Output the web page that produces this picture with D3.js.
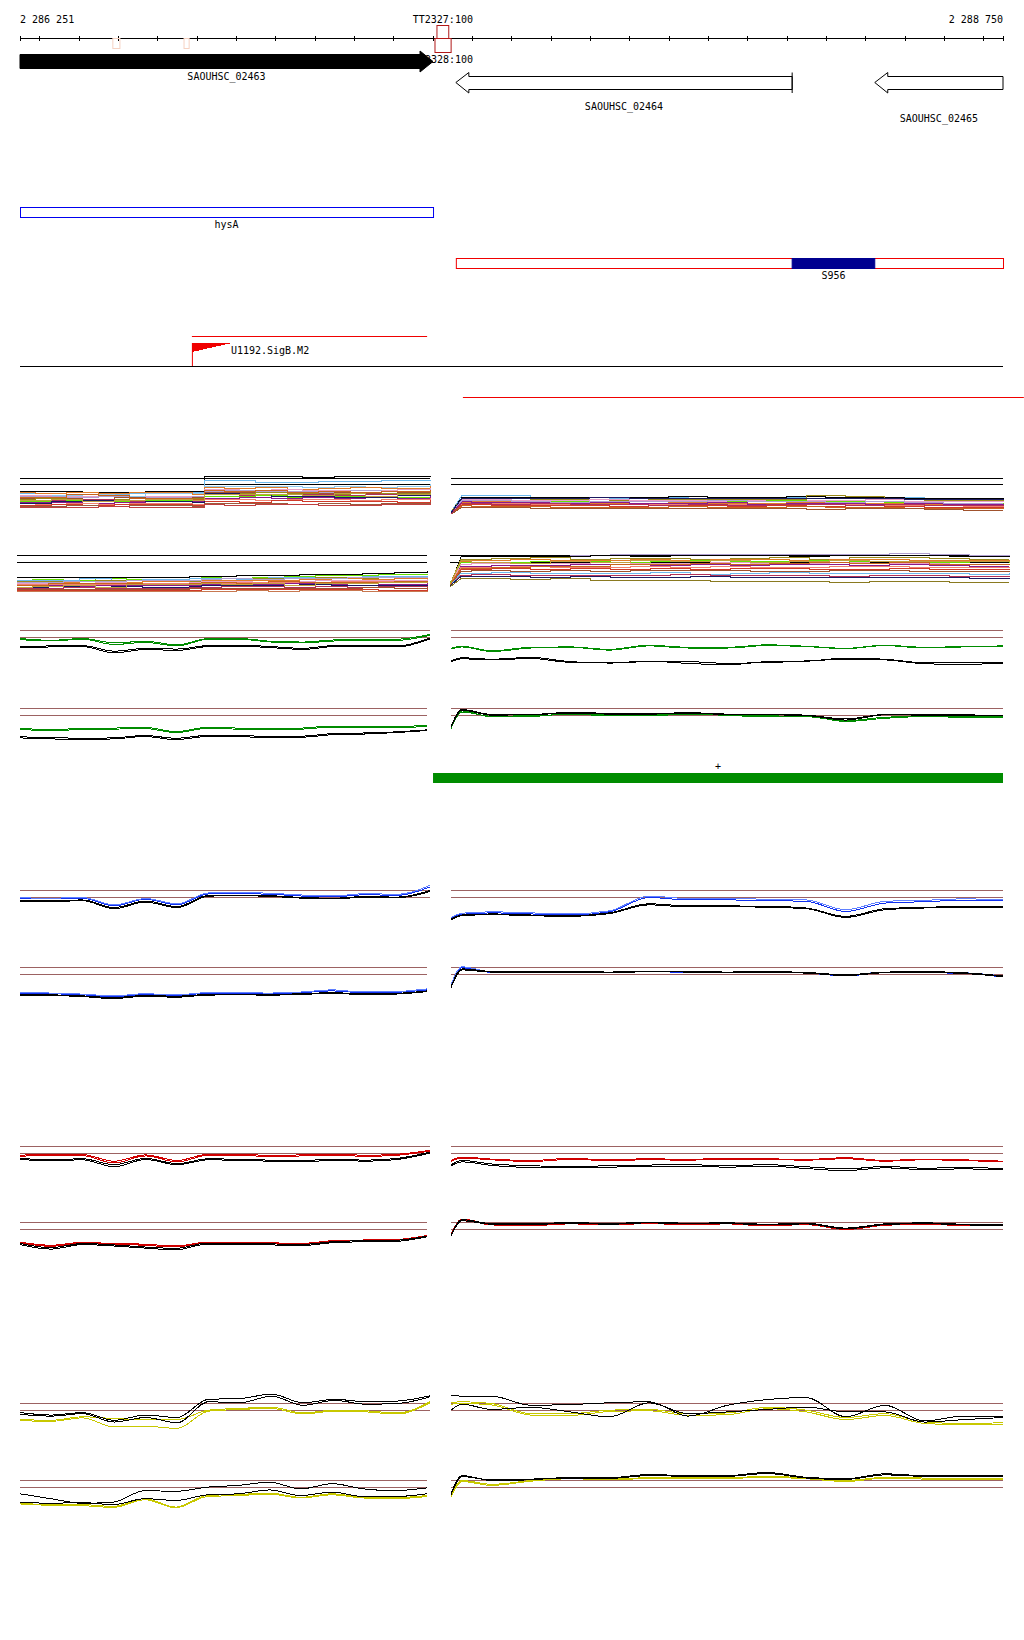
<!DOCTYPE html>
<html>
<head>
<meta charset="utf-8">
<script src="https://cdn.jsdelivr.net/npm/d3@7"></script>
<style>
body { margin: 0; background: #fff; }
svg text { font-family: 'DejaVu Sans Mono', monospace; font-size: 10px; fill: #000; }
</style>
</head>
<body>
<svg width="1024" height="1640"></svg>
<script>
// Genome window and features.

var viewStart = 2286251, viewEnd = 2288750;

var geneNames = ['SAOUHSC_02463', 'SAOUHSC_02464', 'SAOUHSC_02465'];
var geneStarts = [2286251, 2287359, 2288424];
var geneEnds = [2287301, 2288214, 2288750];
var geneStrands = ['+', '-', '-'];

var termNames = ['TT2327:100', 'TT2328:100'];
var termStarts = [2287311, 2287306];
var termEnds = [2287341, 2287347];
var faintStarts = [2286487, 2286668];
var faintEnds = [2286505, 2286681];

var hysA = [2286251, 2287301];
var s956Region = [2287359, 2288750];
var s956 = [2288214, 2288424];
var promName = 'U1192.SigB.M2';
var promRange = [2286688, 2287286];
var redSpan = [2287377, 2288803];
var plusBar = [2287301, 2288750];

// Probe positions of the expression tracks.

var leftPos = [2286251, 2286330, 2286410, 2286490, 2286570, 2286650, 2286730, 2286810, 2286890, 2286970, 2287050, 2287130, 2287210, 2287293];
var leftStepPos = [2286251, 2286330, 2286410, 2286490, 2286570, 2286690, 2286720, 2286810, 2286890, 2286970, 2287050, 2287130, 2287210, 2287293];
var leftStepPosAlt = [2286251, 2286290, 2286370, 2286450, 2286530, 2286690, 2286720, 2286770, 2286850, 2286930, 2287010, 2287090, 2287170, 2287293];
var rightPos = [2287347, 2287375, 2287450, 2287550, 2287650, 2287750, 2287850, 2287950, 2288050, 2288150, 2288250, 2288350, 2288450, 2288550, 2288650, 2288750];
var rightPosAlt = [2287347, 2287375, 2287400, 2287500, 2287600, 2287700, 2287800, 2287900, 2288000, 2288100, 2288200, 2288300, 2288400, 2288500, 2288600, 2288750];

// Multi-condition tracks (log2 signal).

var m1Left = [
 [8.2, 8.2, 8.0, 8.1, 8.2, 8.3, 12.6, 12.7, 12.6, 12.4, 12.7, 12.6, 12.5, 12.8],
 [7.6, 7.8, 7.5, 7.3, 7.7, 7.9, 11.3, 11.3, 11.0, 11.0, 11.2, 11.2, 11.3, 11.7],
 [7.0, 7.2, 7.3, 7.0, 7.6, 7.6, 9.8, 9.8, 9.6, 9.4, 9.6, 9.5, 9.7, 10.3],
 [7.9, 7.6, 7.9, 7.7, 8.0, 7.5, 9.3, 9.1, 9.3, 9.0, 9.2, 9.4, 9.1, 9.8],
 [7.1, 6.9, 7.0, 6.7, 6.9, 6.8, 8.9, 8.6, 8.8, 8.7, 8.5, 8.6, 8.8, 9.3],
 [6.8, 6.9, 6.6, 6.8, 6.5, 6.9, 8.4, 8.6, 8.2, 8.4, 8.1, 8.5, 8.3, 8.9],
 [6.4, 6.3, 6.1, 6.5, 6.4, 6.7, 8.1, 7.9, 8.0, 7.7, 8.0, 7.8, 8.0, 8.4],
 [6.1, 6.2, 6.0, 6.0, 6.2, 6.3, 7.7, 7.6, 7.9, 7.8, 7.5, 7.9, 7.6, 8.1],
 [5.8, 5.7, 5.9, 5.5, 5.6, 6.0, 7.4, 7.2, 7.0, 7.3, 7.1, 7.4, 7.2, 7.8],
 [5.4, 5.5, 5.6, 5.3, 5.6, 5.3, 6.9, 7.0, 7.1, 6.6, 6.8, 6.9, 6.7, 7.3],
 [5.1, 5.2, 5.0, 5.2, 5.0, 5.3, 6.4, 6.6, 6.3, 6.5, 6.3, 6.6, 6.4, 7.0],
 [4.8, 4.7, 4.9, 4.6, 4.8, 4.5, 5.9, 6.0, 5.8, 5.9, 6.1, 5.8, 6.0, 6.4],
 [4.4, 4.5, 4.3, 4.6, 4.5, 4.2, 5.4, 5.2, 5.6, 5.3, 5.4, 5.5, 5.2, 5.8],
 [4.1, 4.0, 4.2, 3.9, 4.3, 4.0, 4.9, 4.8, 5.0, 4.7, 4.9, 4.6, 4.8, 5.2],
 [5.0, 5.3, 5.6, 5.8, 5.3, 5.1, 7.6, 7.3, 6.8, 7.0, 6.6, 6.7, 7.1, 7.5],
 [6.6, 6.5, 7.4, 7.2, 6.3, 6.1, 8.6, 8.2, 8.5, 8.0, 8.3, 8.1, 8.4, 8.7],
 [5.6, 5.9, 5.4, 5.7, 6.0, 5.8, 7.3, 7.5, 7.4, 7.1, 7.6, 7.0, 7.5, 7.9],
 [3.7, 3.8, 3.6, 3.9, 3.7, 3.6, 4.5, 4.4, 4.6, 4.5, 4.3, 4.4, 4.6, 4.9]
];
var m1LeftColors = ['#000000', '#6cb8ec', '#8fc8ee', '#e07b28', '#e8a0c8', '#b0a0d0', '#a0522d', '#9a8a1a', '#b0305a', '#66e000', '#8b1a8b', '#f08070', '#d03a2a', '#9b5a3c', '#1a1a60', '#c8641e', '#c0a040', '#c04040'];

var m1Right = [
 [2.5, 7.2, 7.1, 6.5, 6.6, 6.4, 6.5, 6.3, 6.6, 6.5, 6.4, 6.5, 6.6, 6.3, 6.4, 6.4],
 [2.3, 6.6, 6.7, 6.6, 6.5, 6.6, 6.7, 6.8, 6.7, 6.6, 6.8, 6.5, 6.6, 6.4, 6.2, 6.0],
 [2.4, 6.3, 6.2, 6.1, 6.0, 5.8, 5.9, 6.0, 6.1, 5.9, 7.2, 6.8, 6.0, 5.7, 5.6, 5.5],
 [2.2, 6.0, 5.9, 5.7, 5.8, 5.9, 5.6, 5.7, 5.5, 5.8, 5.6, 5.7, 5.9, 5.4, 5.3, 5.2],
 [2.1, 5.6, 5.5, 5.4, 5.5, 5.3, 5.5, 5.2, 5.4, 5.6, 5.3, 5.5, 5.2, 5.0, 4.8, 4.7],
 [2.0, 5.2, 5.3, 5.0, 5.1, 4.9, 5.0, 5.1, 4.8, 5.0, 5.1, 4.9, 5.0, 4.7, 4.5, 4.4],
 [1.9, 4.9, 4.8, 4.6, 4.7, 4.5, 4.6, 4.7, 4.5, 4.4, 4.6, 4.5, 4.4, 4.2, 4.1, 4.0],
 [2.0, 5.4, 5.1, 5.2, 4.9, 5.1, 4.8, 4.9, 5.2, 4.7, 4.8, 5.0, 4.7, 4.9, 4.6, 4.5],
 [1.8, 4.5, 4.4, 4.2, 4.3, 4.1, 4.3, 4.2, 4.0, 4.2, 4.1, 4.3, 4.0, 3.8, 3.7, 3.6],
 [1.9, 4.2, 4.0, 3.9, 3.7, 3.8, 3.6, 3.9, 3.8, 3.7, 3.9, 3.8, 3.6, 3.5, 3.4, 3.3],
 [1.8, 3.8, 3.7, 3.4, 3.5, 3.3, 3.4, 3.3, 3.5, 3.4, 3.2, 3.4, 3.3, 3.1, 3.0, 2.9],
 [2.1, 5.8, 5.7, 5.5, 5.2, 5.4, 5.3, 5.5, 5.7, 5.3, 5.5, 5.2, 5.4, 5.1, 5.0, 4.9],
 [2.0, 5.0, 4.6, 4.8, 4.5, 4.7, 4.4, 4.6, 4.3, 4.5, 4.7, 4.2, 4.6, 4.4, 4.2, 4.1],
 [2.2, 6.4, 6.4, 6.2, 6.3, 6.5, 6.2, 6.4, 6.3, 6.2, 6.3, 6.2, 6.3, 6.1, 6.0, 5.9]
];
var m1RightColors = ['#6cb8ec', '#000000', '#9a8a1a', '#e8a0c8', '#66e000', '#e07b28', '#f08070', '#8b1a8b', '#d03a2a', '#c8641e', '#a0522d', '#b0a0d0', '#b0305a', '#1a1a60'];

var m2Left = [
 [5.7, 5.7, 5.6, 5.8, 5.7, 5.9, 6.1, 6.2, 6.4, 6.5, 6.6, 6.9, 7.1, 7.5],
 [4.8, 5.2, 5.0, 5.4, 5.1, 5.3, 5.6, 5.5, 5.8, 5.9, 6.2, 6.4, 6.5, 6.8],
 [5.0, 4.8, 5.3, 4.9, 5.2, 5.4, 5.5, 5.2, 5.6, 5.6, 5.7, 5.9, 6.0, 6.2],
 [4.6, 4.7, 4.5, 4.8, 4.9, 4.7, 5.2, 5.0, 5.3, 5.4, 5.6, 5.5, 5.8, 6.0],
 [4.3, 4.4, 4.6, 4.2, 4.5, 4.4, 4.8, 4.9, 5.0, 5.1, 5.3, 5.2, 5.4, 5.6],
 [4.0, 4.1, 3.9, 4.3, 4.0, 4.2, 4.5, 4.6, 4.4, 4.7, 4.9, 5.0, 4.8, 5.2],
 [3.7, 3.6, 3.8, 3.7, 3.9, 3.8, 4.1, 4.2, 4.3, 4.1, 4.5, 4.6, 4.4, 4.8],
 [3.3, 3.4, 3.2, 3.5, 3.3, 3.4, 3.7, 3.6, 3.8, 3.9, 3.7, 3.9, 3.8, 4.1],
 [3.0, 3.1, 3.0, 3.2, 2.9, 3.1, 3.4, 3.5, 3.3, 3.6, 3.4, 3.5, 3.3, 3.6],
 [2.7, 2.6, 2.8, 2.7, 2.6, 2.8, 3.0, 3.1, 3.2, 2.9, 3.1, 3.0, 3.2, 3.4],
 [2.3, 2.4, 2.2, 2.4, 2.3, 2.5, 2.6, 2.7, 2.5, 2.7, 2.6, 2.8, 2.5, 2.9],
 [1.9, 2.0, 2.1, 1.9, 2.0, 2.1, 2.2, 2.2, 2.4, 2.2, 2.3, 2.2, 2.1, 2.4],
 [1.6, 1.7, 1.6, 1.8, 1.7, 1.6, 1.8, 1.9, 1.8, 2.0, 1.9, 1.8, 1.7, 2.0],
 [4.4, 4.2, 4.7, 4.6, 4.8, 5.0, 5.1, 5.3, 5.2, 5.3, 5.4, 5.7, 5.6, 5.9],
 [3.5, 3.9, 4.1, 4.0, 3.6, 3.9, 4.3, 4.0, 4.6, 4.4, 4.2, 4.3, 4.6, 4.5],
 [2.9, 3.2, 3.5, 3.0, 3.7, 3.6, 3.9, 3.8, 4.0, 3.4, 4.0, 4.1, 4.2, 4.4]
];
var m2LeftColors = ['#000000', '#66e000', '#6cb8ec', '#9a8a1a', '#e07b28', '#e8a0c8', '#f08070', '#8b1a8b', '#1a1a60', '#b0305a', '#a0522d', '#d03a2a', '#c87850', '#b0a0d0', '#c8641e', '#c0a040'];

var m2Right = [
 [3.2, 10.8, 11.2, 11.5, 12.1, 12.2, 12.3, 12.2, 12.3, 12.4, 12.2, 12.3, 12.5, 12.2, 12.0, 11.8],
 [3.4, 11.6, 11.8, 11.7, 11.8, 11.9, 11.8, 12.0, 12.1, 11.9, 11.8, 11.9, 12.0, 11.9, 11.8, 11.9],
 [3.8, 11.0, 11.1, 11.3, 11.0, 11.2, 11.1, 10.9, 11.2, 11.4, 11.0, 11.3, 11.5, 11.2, 11.0, 10.9],
 [3.6, 10.3, 10.6, 10.8, 10.5, 10.7, 10.9, 10.6, 10.8, 10.9, 10.7, 10.8, 10.9, 10.6, 10.7, 10.5],
 [4.0, 10.0, 10.1, 10.2, 10.4, 10.1, 10.3, 10.5, 10.2, 10.4, 10.6, 10.3, 10.2, 10.1, 10.3, 10.0],
 [3.5, 9.5, 9.6, 9.8, 9.7, 9.9, 9.6, 9.8, 10.0, 9.7, 9.8, 9.9, 9.7, 9.6, 9.5, 9.4],
 [3.3, 9.0, 9.2, 9.1, 9.3, 9.4, 9.1, 9.3, 9.2, 9.4, 9.3, 9.2, 9.4, 9.1, 9.0, 8.9],
 [3.9, 8.6, 8.5, 8.8, 8.7, 8.6, 8.9, 8.7, 8.8, 8.6, 8.7, 8.9, 8.8, 8.5, 8.6, 8.4],
 [3.1, 8.0, 8.2, 8.1, 8.3, 8.0, 8.2, 8.1, 8.3, 8.2, 8.0, 8.1, 8.2, 8.0, 7.9, 7.8],
 [3.7, 7.5, 7.6, 7.4, 7.7, 7.5, 7.6, 7.8, 7.6, 7.4, 7.5, 7.7, 7.6, 7.4, 7.3, 7.2],
 [3.3, 7.0, 7.1, 6.8, 7.0, 6.9, 7.2, 6.7, 7.0, 7.1, 6.8, 6.9, 7.0, 6.8, 6.7, 6.9],
 [3.2, 6.4, 6.5, 6.3, 6.2, 6.4, 6.3, 6.5, 6.2, 6.4, 6.3, 6.1, 6.3, 6.2, 6.0, 6.1],
 [3.4, 6.0, 5.9, 5.8, 5.9, 5.7, 5.8, 5.9, 5.7, 5.8, 5.6, 5.7, 5.8, 5.6, 5.5, 5.6],
 [3.0, 5.4, 5.3, 5.2, 5.4, 5.0, 4.9, 4.8, 4.6, 4.5, 4.5, 4.4, 4.6, 4.5, 4.4, 4.3],
 [3.6, 8.3, 8.6, 9.0, 8.9, 9.5, 9.3, 9.7, 9.4, 9.8, 9.9, 9.6, 10.0, 9.5, 9.3, 9.6],
 [3.8, 10.5, 10.0, 9.7, 10.2, 10.0, 10.6, 10.3, 10.5, 10.1, 10.4, 10.6, 10.3, 10.4, 10.2, 10.1]
];
var m2RightColors = ['#b0a0d0', '#000000', '#9a8a1a', '#e07b28', '#66e000', '#e8a0c8', '#8b1a8b', '#f08070', '#d03a2a', '#a0522d', '#6cb8ec', '#b0305a', '#1a1a60', '#8a7a20', '#c8641e', '#c0a040'];

// Paired condition tracks: two colored replicates, two black references.

var g1Left = [
 [9.7, 9.2, 9.7, 8.5, 8.9, 7.9, 9.7, 9.7, 8.9, 8.7, 9.3, 9.4, 9.5, 10.9],
 [9.4, 9.0, 9.5, 8.0, 8.6, 7.6, 9.5, 9.5, 8.7, 8.5, 9.0, 9.2, 9.2, 10.6],
 [7.4, 7.6, 7.7, 6.1, 6.9, 6.7, 7.7, 7.8, 7.4, 6.9, 7.7, 7.6, 7.6, 9.8],
 [7.1, 7.3, 7.4, 5.6, 6.6, 6.3, 7.4, 7.5, 7.1, 6.6, 7.4, 7.3, 7.3, 9.6]
];
var g1Right = [
 [6.9, 7.5, 6.2, 7.2, 7.3, 6.6, 7.8, 7.2, 7.2, 7.9, 7.5, 6.9, 7.8, 7.2, 7.4, 7.6],
 [6.7, 7.3, 6.0, 7.0, 7.2, 6.4, 7.6, 7.0, 7.0, 7.7, 7.4, 6.8, 7.7, 7.0, 7.3, 7.5],
 [3.3, 4.2, 3.8, 4.3, 3.1, 2.7, 3.1, 3.1, 2.6, 2.9, 3.2, 4.1, 3.8, 2.8, 3.0, 2.8],
 [3.1, 3.9, 3.6, 4.0, 2.9, 2.8, 3.2, 2.6, 2.2, 3.1, 3.3, 3.8, 3.6, 2.5, 2.3, 2.7]
];
var g2Left = [
 [6.3, 6.0, 6.3, 6.4, 6.6, 5.4, 6.6, 6.4, 6.3, 6.4, 7.0, 6.9, 6.9, 7.1],
 [6.0, 5.7, 6.0, 6.1, 6.3, 5.1, 6.3, 6.1, 6.0, 6.1, 6.7, 6.6, 6.6, 6.8],
 [3.9, 3.7, 3.5, 3.6, 4.3, 3.5, 4.3, 4.2, 4.1, 4.1, 4.8, 5.0, 5.3, 5.9],
 [3.6, 3.3, 3.2, 3.3, 4.0, 3.1, 4.0, 3.9, 3.8, 3.8, 4.5, 4.7, 5.1, 5.7]
];
var g2Right = [
 [6.5, 11.3, 9.6, 9.7, 10.5, 10.2, 10.2, 10.5, 10.0, 9.7, 9.8, 8.3, 9.2, 9.7, 9.5, 9.5],
 [6.3, 11.0, 9.8, 9.9, 10.3, 10.0, 10.0, 10.3, 10.1, 9.9, 9.7, 8.5, 9.5, 9.8, 9.6, 9.6],
 [6.9, 11.7, 10.3, 10.3, 10.9, 10.6, 10.5, 10.8, 10.4, 10.3, 10.1, 9.0, 10.3, 10.3, 10.2, 10.0],
 [6.7, 11.5, 10.1, 10.2, 10.7, 10.4, 10.4, 10.6, 10.3, 10.2, 10.0, 8.7, 10.2, 10.1, 10.0, 9.9]
];

var b1Left = [
 [9.7, 9.6, 9.8, 7.6, 9.5, 7.9, 11.0, 11.1, 10.9, 10.4, 10.2, 10.8, 10.6, 13.0],
 [9.9, 9.8, 10.0, 7.9, 9.7, 8.2, 11.3, 11.4, 11.2, 10.7, 10.5, 11.1, 10.9, 13.5],
 [9.2, 9.0, 9.3, 7.1, 9.0, 7.4, 10.6, 10.7, 10.5, 10.0, 9.8, 10.3, 10.1, 12.0],
 [9.0, 8.8, 9.1, 6.8, 8.7, 7.1, 10.4, 10.5, 10.3, 9.8, 9.6, 10.1, 9.9, 11.7]
];
var b1Right = [
 [4.0, 5.2, 5.6, 5.3, 5.0, 5.9, 10.0, 9.3, 9.3, 9.1, 8.9, 6.0, 8.4, 8.8, 9.2, 9.1],
 [4.3, 5.5, 5.9, 5.6, 5.3, 6.2, 10.4, 9.7, 9.7, 9.5, 9.3, 6.5, 8.9, 9.2, 9.6, 9.5],
 [3.8, 5.0, 5.3, 5.0, 4.8, 5.6, 8.2, 7.6, 7.6, 7.5, 7.0, 4.6, 6.8, 7.2, 7.4, 7.4],
 [3.6, 4.8, 5.1, 4.8, 4.6, 5.4, 7.9, 7.3, 7.4, 7.2, 6.8, 4.3, 6.5, 7.0, 7.2, 7.1]
];
var b2Left = [
 [4.6, 4.5, 4.2, 3.6, 4.3, 4.0, 4.6, 4.6, 4.5, 4.8, 5.3, 4.8, 4.9, 5.6],
 [4.8, 4.7, 4.4, 3.9, 4.5, 4.2, 4.8, 4.8, 4.7, 5.0, 5.6, 5.0, 5.1, 5.9],
 [4.3, 4.2, 3.9, 3.4, 4.0, 3.8, 4.3, 4.4, 4.3, 4.5, 4.8, 4.5, 4.6, 5.3],
 [4.1, 4.0, 3.7, 3.1, 3.8, 3.5, 4.1, 4.2, 4.1, 4.3, 4.6, 4.3, 4.4, 5.1]
];
var b2Right = [
 [6.8, 11.9, 10.6, 10.7, 10.6, 10.5, 10.8, 10.6, 10.5, 10.6, 10.4, 9.6, 10.5, 10.5, 10.3, 9.3],
 [7.1, 12.2, 10.8, 10.9, 10.8, 10.7, 11.0, 10.8, 10.7, 10.8, 10.6, 9.9, 10.7, 10.7, 10.5, 9.6],
 [6.5, 11.6, 10.9, 10.9, 10.8, 10.7, 11.0, 10.9, 10.7, 10.8, 10.6, 9.9, 10.7, 10.8, 10.5, 9.6],
 [6.3, 11.3, 10.7, 10.7, 10.6, 10.5, 10.8, 10.7, 10.5, 10.6, 10.4, 9.7, 10.5, 10.6, 10.3, 9.4]
];

var r1Left = [
 [9.5, 9.8, 9.7, 7.8, 9.6, 8.0, 9.8, 9.7, 9.5, 9.6, 9.8, 9.5, 9.8, 10.9],
 [9.2, 9.5, 9.4, 7.3, 9.3, 7.6, 9.5, 9.4, 9.2, 9.3, 9.5, 9.2, 9.5, 10.7],
 [8.6, 8.2, 8.5, 6.8, 8.6, 7.1, 8.5, 8.3, 8.1, 8.0, 8.4, 8.1, 8.6, 10.4],
 [8.3, 7.9, 8.2, 6.2, 8.3, 6.8, 8.2, 8.0, 7.8, 7.6, 8.1, 7.8, 8.3, 10.1]
];
var r1Right = [
 [8.0, 9.0, 8.4, 8.0, 8.6, 8.2, 8.5, 8.3, 8.7, 8.5, 8.3, 8.8, 8.0, 8.4, 8.2, 7.8],
 [7.8, 8.7, 8.2, 7.7, 8.3, 8.0, 8.2, 8.1, 8.4, 8.3, 8.1, 8.5, 7.8, 8.2, 8.0, 7.6],
 [6.8, 8.0, 7.0, 6.5, 6.3, 6.5, 6.7, 6.8, 6.5, 6.8, 6.2, 5.6, 6.3, 5.8, 6.0, 5.7],
 [6.5, 7.6, 6.6, 6.0, 5.9, 6.1, 6.3, 6.4, 6.1, 6.4, 5.7, 5.1, 5.9, 5.4, 5.6, 5.3]
];
var r2Left = [
 [6.4, 5.5, 6.3, 6.0, 5.8, 5.3, 6.4, 6.3, 6.2, 6.0, 6.8, 7.0, 7.1, 8.3],
 [6.2, 5.2, 6.1, 5.8, 5.5, 5.0, 6.2, 6.1, 6.0, 5.8, 6.6, 6.8, 6.9, 8.1],
 [6.0, 4.8, 6.0, 5.6, 5.0, 4.6, 6.1, 6.0, 5.9, 5.7, 6.5, 6.8, 6.9, 8.1],
 [5.7, 4.4, 5.7, 5.3, 4.7, 4.2, 5.8, 5.7, 5.6, 5.4, 6.2, 6.5, 6.6, 7.9]
];
var r2Right = [
 [8.5, 13.0, 11.5, 11.3, 11.8, 11.5, 11.9, 11.5, 11.8, 11.2, 11.6, 10.2, 11.4, 11.7, 11.3, 11.2],
 [8.3, 12.7, 11.3, 11.1, 11.6, 11.3, 11.7, 11.3, 11.6, 11.0, 11.4, 10.0, 11.2, 11.5, 11.1, 11.0],
 [8.3, 12.8, 11.7, 11.6, 12.0, 11.7, 12.1, 11.8, 11.9, 11.5, 11.8, 10.4, 11.6, 11.9, 11.5, 11.4],
 [8.1, 12.5, 11.5, 11.4, 11.8, 11.5, 11.9, 11.6, 11.7, 11.3, 11.6, 10.2, 11.4, 11.7, 11.3, 11.2]
];

var y1Left = [
 [7.4, 7.2, 8.2, 7.7, 7.4, 7.4, 10.1, 10.6, 10.9, 9.3, 10.1, 9.9, 9.3, 12.5],
 [7.1, 6.9, 7.9, 5.3, 5.5, 4.9, 9.8, 10.3, 10.6, 9.0, 9.8, 9.6, 9.0, 12.2],
 [9.4, 8.7, 9.4, 7.2, 8.7, 8.0, 13.2, 13.4, 14.7, 12.2, 13.2, 12.5, 12.7, 14.2],
 [8.9, 8.4, 9.1, 6.7, 8.0, 6.5, 12.5, 12.2, 14.1, 11.5, 12.9, 11.8, 12.0, 13.9]
];
var y1Right = [
 [12.2, 12.5, 12.0, 9.1, 9.1, 10.1, 10.3, 9.1, 9.3, 10.9, 10.1, 8.0, 9.1, 6.7, 6.3, 6.5],
 [11.8, 12.0, 11.6, 8.7, 8.6, 9.7, 9.9, 8.6, 8.8, 10.5, 9.6, 7.4, 8.6, 6.3, 5.9, 6.0],
 [14.4, 14.1, 14.1, 11.5, 11.7, 12.2, 12.5, 8.4, 11.5, 13.1, 13.7, 8.2, 11.5, 7.0, 8.4, 8.4],
 [10.1, 11.8, 10.3, 10.9, 9.6, 8.2, 12.2, 9.1, 9.6, 10.3, 11.0, 9.6, 9.6, 6.7, 7.4, 8.0]
];
var y2Left = [
 [5.5, 5.1, 5.1, 4.6, 6.8, 4.4, 7.7, 8.0, 8.4, 7.2, 8.2, 7.2, 7.1, 7.7],
 [5.3, 4.9, 4.8, 4.3, 6.5, 4.2, 7.4, 7.7, 8.1, 7.0, 7.9, 7.0, 6.8, 7.4],
 [5.8, 5.5, 5.7, 5.1, 6.8, 6.3, 7.9, 8.2, 9.3, 7.7, 8.7, 7.4, 7.4, 8.2],
 [8.2, 6.8, 5.5, 5.8, 9.1, 8.9, 10.1, 10.6, 11.5, 9.6, 11.1, 9.6, 9.1, 9.9]
];
var y2Right = [
 [7.7, 12.0, 10.9, 12.0, 12.8, 12.5, 12.8, 12.9, 12.9, 13.1, 12.8, 12.0, 12.9, 12.7, 12.5, 12.5],
 [7.4, 11.7, 10.6, 11.8, 12.5, 12.2, 12.6, 12.7, 12.6, 12.9, 12.5, 11.7, 12.7, 12.4, 12.2, 12.3],
 [8.2, 13.4, 12.0, 12.2, 12.9, 12.8, 13.7, 13.4, 13.4, 14.3, 12.9, 12.5, 13.9, 13.4, 13.4, 13.4],
 [8.0, 13.1, 12.2, 12.4, 12.7, 12.6, 13.4, 13.2, 13.2, 14.0, 12.7, 12.3, 13.6, 13.2, 13.2, 13.2]
];

var refLevels = [12, 10];
var refLevelsTop = [12, 10.3];

var greenColors = ['#008c00', '#008c00', '#000000', '#000000'];
var blueColors = ['#1030f0', '#6080ff', '#000000', '#000000'];
var redColors = ['#d00000', '#d00000', '#000000', '#000000'];
var yellowColors = ['#c8c800', '#c8c800', '#000000', '#000000'];

// Select the SVG and build the main scale.

var svg = d3.select('svg');
var x = d3.scaleLinear().domain([viewStart, viewEnd]).range([20, 1003]);
var spaced = function(v) { return d3.format(',')(v).replace(/,/g, ' '); };

// Draw the ruler.

var ticks = [viewStart].concat(d3.range(2286300, viewEnd, 100), [viewEnd]);
var ruler = svg.append('g')
 .attr('transform', 'translate(0,36)')
 .call(d3.axisBottom(x).tickValues(ticks).tickSize(5).tickFormat(''));
ruler.select('.domain').remove();
ruler.selectAll('line').attr('stroke', '#000').attr('shape-rendering', 'crispEdges');

svg.append('line')
 .attr('x1', x(viewStart)).attr('x2', x(viewEnd))
 .attr('y1', 38.5).attr('y2', 38.5)
 .attr('stroke', '#000');

svg.append('text').attr('x', x(viewStart)).attr('y', 23).text(spaced(viewStart));
svg.append('text').attr('x', x(viewEnd)).attr('y', 23).attr('text-anchor', 'end').text(spaced(viewEnd));

// Terminator labels sit under the gene arrow.

svg.selectAll(null).data(termNames).enter().append('text')
 .attr('x', function(d, i) { return (x(termStarts[i]) + x(termEnds[i])) / 2; })
 .attr('y', function(d, i) { return i === 0 ? 23 : 63; })
 .attr('text-anchor', 'middle')
 .text(function(d) { return d; });

svg.selectAll(null).data(faintStarts).enter().append('rect')
 .attr('x', function(d) { return x(d); })
 .attr('y', 38.5)
 .attr('width', function(d, i) { return x(faintEnds[i]) - x(d); })
 .attr('height', 10)
 .attr('fill', 'none')
 .attr('stroke', '#f6d2c2');

// Draw the genes.

var geneLabelY = [80, 110, 122];

svg.selectAll(null).data(geneNames).enter().append('path')
 .attr('d', function(d, i) {
  var a = x(geneStarts[i]), b = x(geneEnds[i]);
  if (geneStrands[i] === '+') {
   return 'M' + a + ',54.5H' + (b - 13) + 'V51L' + b + ',61.5L' + (b - 13) + ',72V68.5H' + a + 'Z';
  }
  var p = 'M' + a + ',82.5L' + (a + 13) + ',72.5V76.5H' + b + 'V89.5H' + (a + 13) + 'V93Z';
  if (geneEnds[i] < viewEnd) p += 'M' + b + ',72.5V93';
  return p;
 })
 .attr('fill', function(d, i) { return geneStrands[i] === '+' ? '#000' : '#fff'; })
 .attr('stroke', '#000')
 .attr('stroke-width', 1);

svg.selectAll(null).data(geneNames).enter().append('text')
 .attr('x', function(d, i) { return (x(geneStarts[i]) + x(geneEnds[i])) / 2; })
 .attr('y', function(d, i) { return geneLabelY[i]; })
 .attr('text-anchor', 'middle')
 .text(function(d) { return d; });

svg.selectAll(null).data(termStarts).enter().append('rect')
 .attr('x', function(d) { return x(d); })
 .attr('y', function(d, i) { return i === 0 ? 25.5 : 38.5; })
 .attr('width', function(d, i) { return x(termEnds[i]) - x(d); })
 .attr('height', function(d, i) { return i === 0 ? 13 : 14; })
 .attr('fill', 'none')
 .attr('stroke', '#b01818');

// Draw hysA, S956 and the promoter.

svg.append('rect')
 .attr('x', x(hysA[0]) + 0.5).attr('y', 207.5)
 .attr('width', x(hysA[1]) - x(hysA[0])).attr('height', 10)
 .attr('fill', 'none').attr('stroke', '#0000f0');
svg.append('text').attr('x', (x(hysA[0]) + x(hysA[1])) / 2).attr('y', 228).attr('text-anchor', 'middle').text('hysA');

svg.append('rect')
 .attr('x', x(s956Region[0]) + 0.5).attr('y', 258.5)
 .attr('width', x(s956Region[1]) - x(s956Region[0])).attr('height', 10)
 .attr('fill', 'none').attr('stroke', '#f00000');
svg.append('rect')
 .attr('x', x(s956[0])).attr('y', 258.5)
 .attr('width', x(s956[1]) - x(s956[0])).attr('height', 10)
 .attr('fill', '#000090').attr('stroke', '#000090');
svg.append('text').attr('x', (x(s956[0]) + x(s956[1])) / 2).attr('y', 279).attr('text-anchor', 'middle').text('S956');

svg.append('line')
 .attr('x1', x(promRange[0])).attr('x2', x(promRange[1]))
 .attr('y1', 336.5).attr('y2', 336.5).attr('stroke', '#f00000');
svg.append('line')
 .attr('x1', x(promRange[0]) + 0.5).attr('x2', x(promRange[0]) + 0.5)
 .attr('y1', 343).attr('y2', 366).attr('stroke', '#f00000');
svg.append('path')
 .attr('d', 'M' + x(promRange[0]) + ',343H' + (x(promRange[0]) + 40) + 'L' + x(promRange[0]) + ',352Z')
 .attr('fill', '#f00000').attr('shape-rendering', 'crispEdges');
svg.append('text').attr('x', x(promRange[0]) + 39).attr('y', 354).text(promName);

svg.append('line')
 .attr('x1', x(viewStart)).attr('x2', x(viewEnd))
 .attr('y1', 366.5).attr('y2', 366.5).attr('stroke', '#000');
svg.append('line')
 .attr('x1', x(redSpan[0])).attr('x2', x(redSpan[1]))
 .attr('y1', 397.5).attr('y2', 397.5).attr('stroke', '#f00000');

// Draw the expression tracks.

function track(top, range, domain, pos, series, colors, refs, refColor, stepped, altPos) {
 var g = svg.append('g');
 var xs = d3.scaleLinear().domain(domain).range(range);
 var y = d3.scaleLinear().domain([12, 0]).range([top, top + 42]);

 g.selectAll(null).data(refs).enter().append('line')
  .attr('x1', range[0]).attr('x2', range[1])
  .attr('y1', function(d) { return y(d); })
  .attr('y2', function(d) { return y(d); })
  .attr('stroke', refColor)
  .attr('shape-rendering', 'crispEdges');

 var line = d3.line()
  .x(function(d) { return xs(d[0]); })
  .y(function(d) { return y(d[1]); })
  .curve(stepped ? d3.curveStepAfter : d3.curveMonotoneX);

 g.selectAll(null).data(series).enter().append('path')
  .attr('d', function(d, k) {
   // odd series of the multi tracks sit on the staggered probe set
   var p = (altPos && k % 2 === 1) ? altPos : pos;
   var pts = d.map(function(v, i) { return [p[i], v]; });
   // right-hand tracks ramp in from the first probe
   if (stepped && p[0] > viewStart) {
    return 'M' + xs(pts[0][0]) + ',' + y(pts[0][1]) + 'L' + line(pts.slice(1)).slice(1);
   }
   return line(pts);
  })
  .attr('fill', 'none')
  .attr('stroke', function(d, i) { return colors[i]; })
  .attr('stroke-width', 1)
  .attr('shape-rendering', 'crispEdges');
}

var leftDom = [viewStart, leftPos[leftPos.length - 1]];
var rightDom = [rightPos[0], viewEnd];
var brown = '#9c6262';

track(478.5, [20, 430], leftDom, leftStepPos, m1Left, m1LeftColors, refLevelsTop, '#000', true, leftStepPosAlt);
track(478.5, [451, 1003], rightDom, rightPos, m1Right, m1RightColors, refLevelsTop, '#000', true, rightPosAlt);
track(555.5, [17, 427], leftDom, leftStepPos, m2Left, m2LeftColors, refLevels, '#000', true, leftStepPosAlt);
track(555.5, [450, 1009], rightDom, rightPos, m2Right, m2RightColors, refLevels, '#000', true, rightPosAlt);

track(630.5, [20, 430], leftDom, leftPos, g1Left, greenColors, refLevels, brown, false);
track(630.5, [451, 1003], rightDom, rightPos, g1Right, greenColors, refLevels, brown, false);
track(708.5, [20, 427], leftDom, leftPos, g2Left, greenColors, refLevels, brown, false);
track(708.5, [451, 1003], rightDom, rightPos, g2Right, greenColors, refLevels, brown, false);

track(890.5, [20, 430], leftDom, leftPos, b1Left, blueColors, refLevels, brown, false);
track(890.5, [451, 1003], rightDom, rightPos, b1Right, blueColors, refLevels, brown, false);
track(967.5, [20, 427], leftDom, leftPos, b2Left, blueColors, refLevels, brown, false);
track(967.5, [451, 1003], rightDom, rightPos, b2Right, blueColors, refLevels, brown, false);

track(1146.5, [20, 430], leftDom, leftPos, r1Left, redColors, refLevels, brown, false);
track(1146.5, [451, 1003], rightDom, rightPos, r1Right, redColors, refLevels, brown, false);
track(1222.5, [20, 427], leftDom, leftPos, r2Left, redColors, refLevels, brown, false);
track(1222.5, [451, 1003], rightDom, rightPos, r2Right, redColors, refLevels, brown, false);

track(1403.5, [20, 430], leftDom, leftPos, y1Left, yellowColors, refLevels, brown, false);
track(1403.5, [451, 1003], rightDom, rightPos, y1Right, yellowColors, refLevels, brown, false);
track(1480.5, [20, 427], leftDom, leftPos, y2Left, yellowColors, refLevels, brown, false);
track(1480.5, [451, 1003], rightDom, rightPos, y2Right, yellowColors, refLevels, brown, false);

// Strand bar.

svg.append('rect')
 .attr('x', x(plusBar[0])).attr('y', 773)
 .attr('width', x(plusBar[1]) - x(plusBar[0])).attr('height', 10)
 .attr('fill', '#008c00');
svg.append('text')
 .attr('x', (x(plusBar[0]) + x(plusBar[1])) / 2).attr('y', 770)
 .attr('text-anchor', 'middle').text('+');
</script>
</body>
</html>
